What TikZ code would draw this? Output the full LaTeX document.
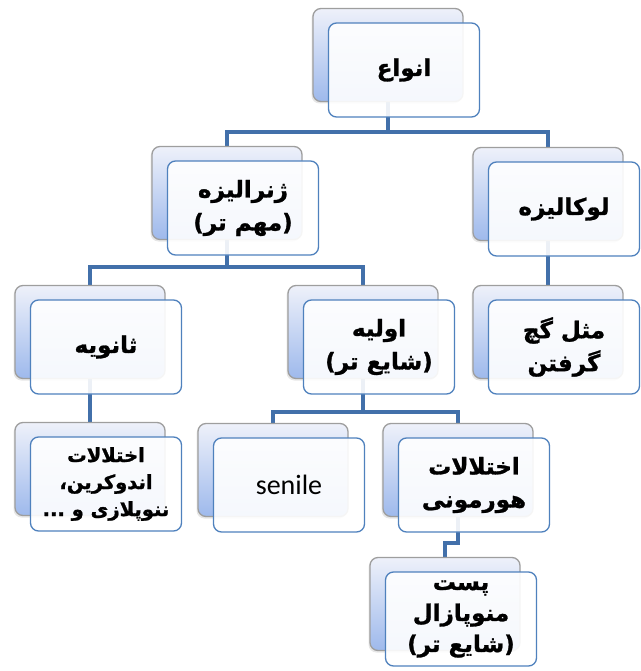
\documentclass[tikz,border=0pt]{standalone}
\usepackage{fontspec}
\usepackage{tikz}
\usetikzlibrary{shadows}
\setmainfont{Carlito}
\newfontfamily\persianfont[Script=Arabic, BoldFeatures={FakeBold=1.2}]{DejaVu Sans}
\TeXXeTstate=1
\newcommand{\fa}[1]{{\persianfont\bfseries\beginR #1\endR}}
\definecolor{linkblue}{RGB}{66,112,170}
\definecolor{frameblue}{RGB}{79,129,189}
\definecolor{backtop}{RGB}{238,241,250}
\definecolor{backbot}{RGB}{158,185,236}
\pgfdeclarelayer{background}
\pgfsetlayers{background,main}

\begin{document}
\begin{tikzpicture}
        [%%%%%%%%%%%%%%%%%%%%%%%%%%%%%%
        x=1pt, y=-1pt,
        backbox/.style={rounded corners=8pt, draw=black!38, line width=1.3pt,
          top color=backtop, bottom color=backbot,
          minimum width=150pt, minimum height=93pt,
          drop shadow={shadow xshift=-1.5pt, shadow yshift=-2pt, opacity=.2}},
        frontbox/.style={rounded corners=8pt, draw=frameblue, line width=1.3pt,
          fill=white, fill opacity=.9, text opacity=1,
          minimum width=151pt, minimum height=94pt, align=center,
          inner sep=1pt, font=\fontsize{23}{33}\selectfont},
        link/.style={draw=linkblue, line width=4pt},
        ]%%%%%%%%%%%%%%%%%%%%%%%%%%%%%%
        \useasboundingbox (0,0) rectangle (640,671);
        % Back boxes
        \foreach \n/\x/\y in {anv/388/55, gen/227/193, loc/548/194,
          sec/90/332, pri/363/332, cast/548/332,
          endo/90/469, sen/273/470, horm/458/470, post/445/604}{
            \node[backbox] (b-\n) at (\x,\y){};
        }
        % Front boxes
        \node[frontbox] (anv) at ([shift={(16,15)}]b-anv){\fa{انواع}};
        \node[frontbox] (gen) at ([shift={(16,15)}]b-gen){\fa{ژنرالیزه}\\\fa{(مهم تر)}};
        \node[frontbox] (loc) at ([shift={(16,15)}]b-loc){\fa{لوکالیزه}};
        \node[frontbox] (sec) at ([shift={(16,15)}]b-sec){\fa{ثانویه}};
        \node[frontbox] (pri) at ([shift={(16,15)}]b-pri){\fa{اولیه}\\\fa{(شایع تر)}};
        \node[frontbox] (cast) at ([shift={(16,15)}]b-cast){\fa{مثل گچ}\\\fa{گرفتن}};
        \node[frontbox, font=\fontsize{19.5}{27}\selectfont] (endo) at ([shift={(16,15)}]b-endo)
          {\fa{اختلالات}\\\fa{اندوکرین،}\\\fa{ننوپلازی و ...}};
        \node[frontbox, font=\fontsize{28}{30}\selectfont] (sen) at ([shift={(16,15)}]b-sen){senile};
        \node[frontbox] (horm) at ([shift={(16,15)}]b-horm){\fa{اختلالات}\\\fa{هورمونی}};
        \node[frontbox, font=\fontsize{23}{31}\selectfont] (post) at ([shift={(16,15)}]b-post)
          {\fa{پست}\\\fa{منوپازال}\\\fa{(شایع تر)}};
        % Lines
        \begin{pgfonlayer}{background}
        \draw[link] (b-anv.south) -- ++(0,30) -| (b-gen.north);
        \draw[link] (b-anv.south) -- ++(0,30) -| (b-loc.north);
        \draw[link] (b-gen.south) -- ++(0,27) -| (b-sec.north);
        \draw[link] (b-gen.south) -- ++(0,27) -| (b-pri.north);
        \draw[link] (b-loc.south) -- (b-cast.north);
        \draw[link] (b-sec.south) -- (b-endo.north);
        \draw[link] (b-pri.south) -- ++(0,33) -| (b-sen.north);
        \draw[link] (b-pri.south) -- ++(0,33) -| (b-horm.north);
        \draw[link] (b-horm.south) -- ++(0,26) -| (b-post.north);
        \end{pgfonlayer}
      \end{tikzpicture}
\end{document}
